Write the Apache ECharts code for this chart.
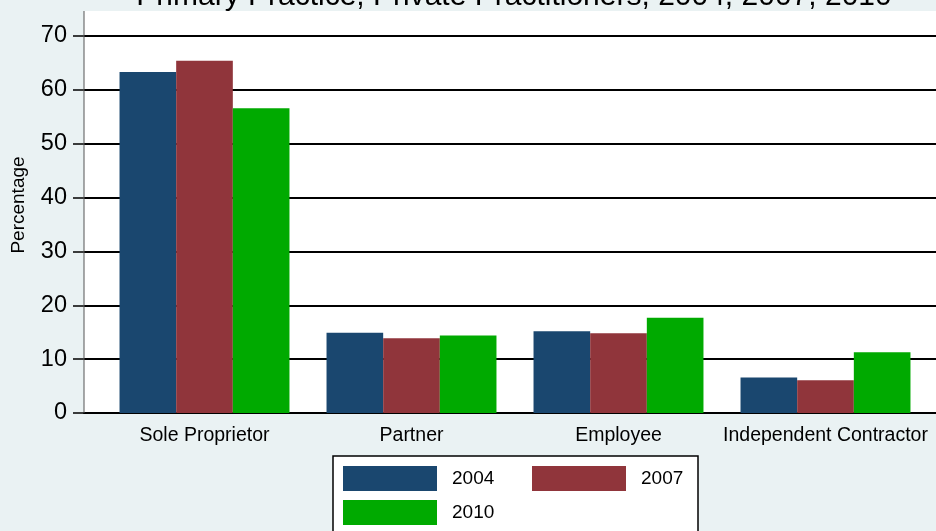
<!DOCTYPE html>
<html>
<head>
<meta charset="utf-8">
<script src="https://cdn.jsdelivr.net/npm/echarts@6/dist/echarts.min.js"></script>
<style>
html,body{margin:0;padding:0;background:#EAF2F3;}
#chart{width:936px;height:531px;}
</style>
</head>
<body>
<div id="chart"></div>
<script>
var categories = ['Sole Proprietor', 'Partner', 'Employee', 'Independent Contractor'];
var seriesNames = ['2004', '2007', '2010'];
var v2004 = [63.3, 14.9, 15.2, 6.6];
var v2007 = [65.4, 13.9, 14.8, 6.1];
var v2010 = [56.6, 14.4, 17.7, 11.3];
var yTicks = [0, 10, 20, 30, 40, 50, 60, 70];
var titleText = 'Primary Practice, Private Practitioners, 2004, 2007, 2010';
var yTitle = 'Percentage';

var colors = ['#1A476F', '#90353B', '#00AA00'];
var FF = '"Liberation Sans", Arial, sans-serif';
var chart = echarts.init(document.getElementById('chart'));
var seriesData = [v2004, v2007, v2010];

function mkLegend(i, left, top) {
  return {
    data: [seriesNames[i]],
    left: left, top: top, padding: 0,
    itemWidth: 94, itemHeight: 25, icon: 'rect',
    selectedMode: false,
    textStyle: {fontFamily: FF, fontSize: 19, color: '#000', padding: [0, 0, 0, 10]}
  };
}

chart.setOption({
  backgroundColor: '#EAF2F3',
  animation: false,
  grid: [
    {left: 84, right: 0, top: 36, bottom: 118},
    {left: 101, right: 7, top: 36, bottom: 118}
  ],
  xAxis: [
    {type: 'value', gridIndex: 0, min: 0, max: 1,
     axisLine: {show: true, onZero: false, lineStyle: {color: '#000', width: 2}},
     axisTick: {show: false}, axisLabel: {show: false}, splitLine: {show: false}},
    {type: 'category', gridIndex: 1, data: categories,
     axisLine: {show: false}, axisTick: {show: false},
     axisLabel: {fontFamily: FF, fontSize: 19.5, color: '#000', margin: 13, interval: 0}}
  ],
  yAxis: [
    {type: 'value', gridIndex: 0, min: yTicks[0], max: yTicks[yTicks.length - 1], interval: 10,
     axisLine: {show: false},
     axisTick: {show: true, length: 11, lineStyle: {color: '#000', width: 1.5}},
     axisLabel: {fontFamily: FF, fontSize: 23.5, color: '#000', margin: 17},
     splitLine: {show: true, lineStyle: {color: '#000', width: 2}}},
    {type: 'value', gridIndex: 1, min: yTicks[0], max: yTicks[yTicks.length - 1], show: false}
  ],
  legend: [mkLegend(0, 343, 466), mkLegend(1, 532, 466), mkLegend(2, 343, 500)],
  graphic: [
    {type: 'rect', z: -1, silent: true, shape: {x: 84, y: 11, width: 852, height: 402}, style: {fill: '#fff'}},
    {type: 'line', z: 5, silent: true, shape: {x1: 84, y1: 11, x2: 84, y2: 413}, style: {stroke: '#555', lineWidth: 1}},
    {type: 'text', z: 5, x: 514, y: -3.5, style: {text: titleText, font: '30px ' + FF, fill: '#000', textAlign: 'center', textVerticalAlign: 'middle'}},
    {type: 'text', z: 5, x: 18.5, y: 205, rotation: Math.PI / 2, style: {text: yTitle, font: '19px ' + FF, fill: '#000', textAlign: 'center', textVerticalAlign: 'middle'}},
    {type: 'rect', z: 1, silent: true, shape: {x: 333, y: 456, width: 365, height: 100}, style: {fill: '#fff', stroke: '#000', lineWidth: 1.5}}
  ],
  series: seriesNames.map(function (n, i) {
    return {
      name: n, type: 'bar', xAxisIndex: 1, yAxisIndex: 1,
      data: seriesData[i], barGap: '0%', barCategoryGap: '17.9%',
      itemStyle: {color: colors[i]}, z: 3
    };
  })
});
</script>
</body>
</html>
